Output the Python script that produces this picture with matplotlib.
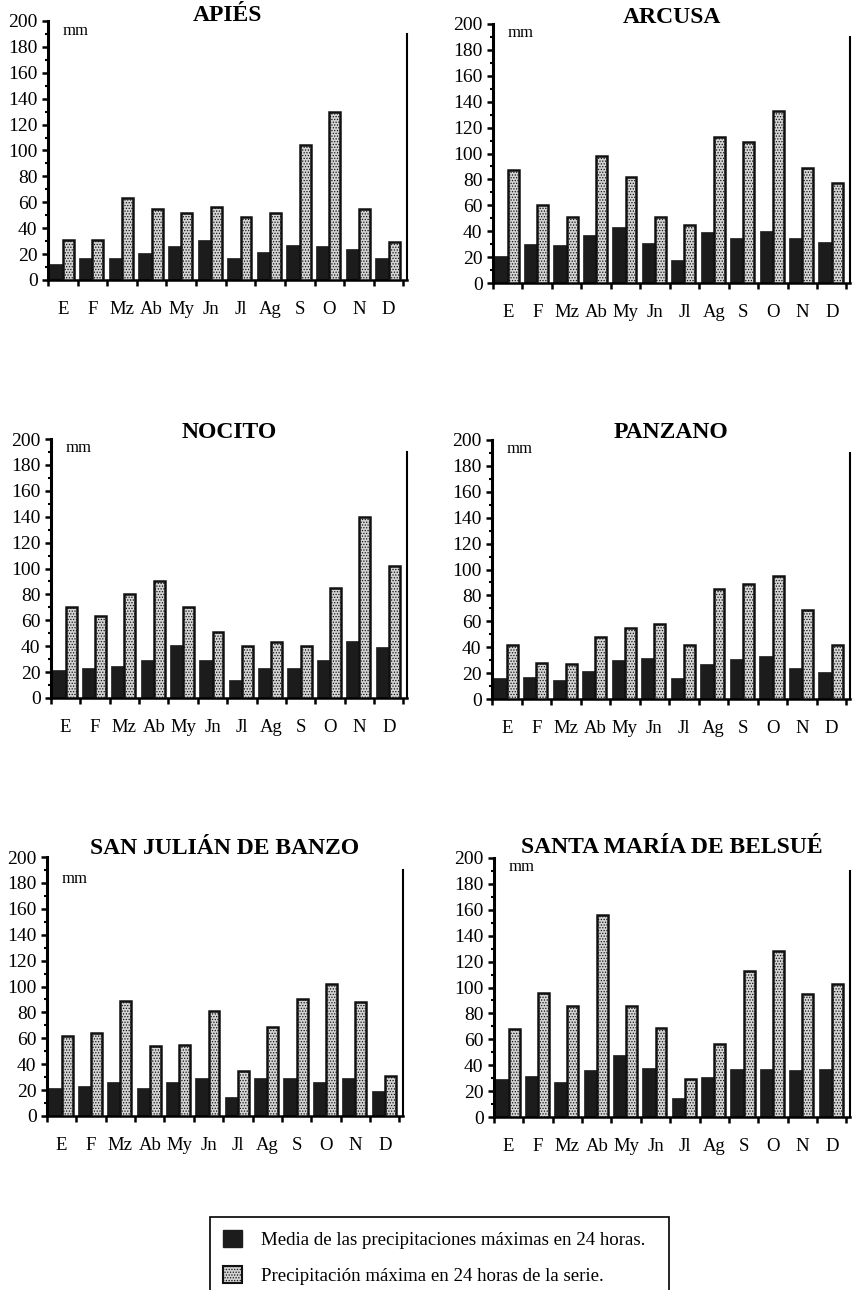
import numpy as np
import matplotlib.pyplot as plt
from matplotlib.patches import Patch

plt.rcParams['font.family'] = ['Liberation Serif', 'DejaVu Serif']
plt.rcParams['hatch.linewidth'] = 0.6

meses = ['E', 'F', 'Mz', 'Ab', 'My', 'Jn', 'Jl', 'Ag', 'S', 'O', 'N', 'D']

estaciones = ['APIÉS', 'ARCUSA', 'NOCITO', 'PANZANO',
              'SAN JULIÁN DE BANZO', 'SANTA MARÍA DE BELSUÉ']

# media de las precipitaciones maximas en 24 h (mm)
media_apies = [12, 17, 17, 21, 26, 31, 17, 22, 27, 26, 24, 17]
media_arcusa = [21, 30, 29, 37, 43, 31, 18, 39, 35, 40, 35, 32]
media_nocito = [22, 23, 25, 29, 41, 29, 14, 23, 23, 29, 44, 39]
media_panzano = [16, 17, 15, 22, 30, 32, 16, 27, 31, 33, 24, 21]
media_sanjulian = [22, 23, 26, 22, 26, 29, 15, 29, 29, 26, 29, 19]
media_santamaria = [29, 32, 27, 36, 48, 38, 15, 31, 37, 37, 36, 37]

# precipitacion maxima en 24 h de la serie (mm)
max_apies = [31, 31, 63, 55, 52, 56, 49, 52, 104, 130, 55, 29]
max_arcusa = [87, 60, 51, 98, 82, 51, 45, 113, 109, 133, 89, 77]
max_nocito = [70, 63, 80, 90, 70, 51, 40, 43, 40, 85, 140, 102]
max_panzano = [42, 28, 27, 48, 55, 58, 42, 85, 89, 95, 69, 42]
max_sanjulian = [62, 64, 89, 54, 55, 81, 35, 69, 90, 102, 88, 31]
max_santamaria = [68, 96, 86, 156, 86, 69, 29, 56, 113, 128, 95, 103]

medias = [media_apies, media_arcusa, media_nocito, media_panzano,
          media_sanjulian, media_santamaria]
maximos = [max_apies, max_arcusa, max_nocito, max_panzano,
           max_sanjulian, max_santamaria]

# posicion de cada panel (px de la imagen): izq, der, base
W, H = 852, 1290
paneles = [(48, 407, 280), (493, 850, 283),
           (51, 407, 698), (492, 850, 699),
           (47, 403, 1116), (494, 850, 1117)]
alto = 259
mm_y = [192, 193, 193, 193, 183, 193]
pad_titulo = [0, 0.5, 0.5, 1.5, 2, 3.5]

fig = plt.figure(figsize=(W / 100, H / 100), dpi=100)

x = np.arange(12)
for k in range(6):
    izq, der, base = paneles[k]
    ax = fig.add_axes([izq / W, 1 - base / H, (der - izq) / W, alto / H])

    ax.bar(x + 0.05, medias[k], width=0.45, align='edge',
           color='#1c1c1c', edgecolor='#1c1c1c', linewidth=0.5, zorder=2)
    ax.bar(x + 0.5, maximos[k], width=0.37, align='edge',
           facecolor='#d4d4d4', edgecolor='#111111', hatch='......',
           linewidth=1.8, zorder=3)

    ax.set_xlim(0, 12.12)
    ax.set_ylim(0, 200)

    ax.spines['top'].set_visible(False)
    ax.spines['left'].set_linewidth(2.2)
    ax.spines['bottom'].set_linewidth(1.8)
    ax.spines['right'].set_linewidth(1.5)
    ax.spines['right'].set_bounds(0, 190)

    ax.set_yticks(np.arange(0, 201, 20))
    ax.set_yticks(np.arange(10, 200, 20), minor=True)
    ax.tick_params(axis='y', which='major', direction='out', length=4.5,
                   width=1.8, labelsize=14, pad=3)
    ax.tick_params(axis='y', which='minor', direction='out', length=2.5,
                   width=1.5)

    ax.set_xticks(np.arange(0, 13))
    ax.set_xticklabels([])
    ax.set_xticks(x + 0.5, minor=True)
    ax.set_xticklabels(meses, minor=True)
    ax.tick_params(axis='x', which='major', direction='out', length=4,
                   width=1.8)
    ax.tick_params(axis='x', which='minor', length=0, labelsize=13.5,
                   pad=15)

    ax.text(0.5, mm_y[k], 'mm', fontsize=12, ha='left', va='center')
    ax.set_title(estaciones[k], fontsize=17, fontweight='bold',
                 pad=pad_titulo[k], y=1.0)

h1 = Patch(facecolor='#1c1c1c', edgecolor='#1c1c1c')
h2 = Patch(facecolor='#d4d4d4', edgecolor='#111111', hatch='......',
           linewidth=1.5)
leg = fig.legend([h1, h2],
                 ['Media de las precipitaciones máximas en 24 horas.',
                  'Precipitación máxima en 24 horas de la serie.'],
                 loc='upper left',
                 bbox_to_anchor=(210 / W, 0, 459 / W, 1 - 1217 / H),
                 mode='expand', fontsize=13.6, frameon=True, fancybox=False,
                 edgecolor='black', framealpha=1, borderaxespad=0,
                 handlelength=1.0, handleheight=1.0, handletextpad=1.0,
                 labelspacing=0.9, borderpad=0.7)
leg.get_frame().set_linewidth(1.2)

fig.savefig('out.png', dpi=100)
